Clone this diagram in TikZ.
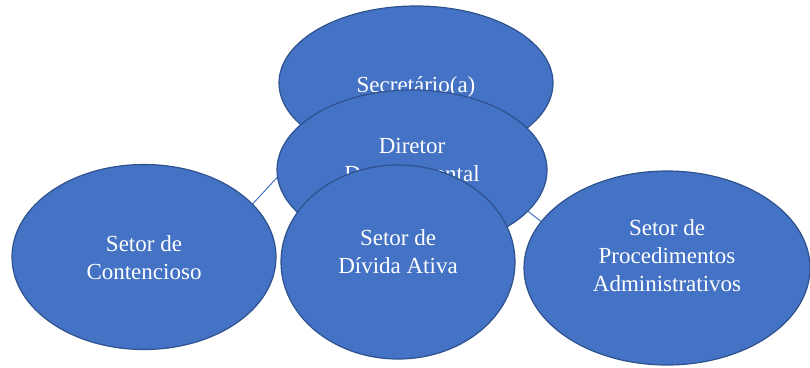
\documentclass[tikz,border=0pt]{standalone}
\usepackage{fontspec}
\setmainfont{Liberation Serif}
\usetikzlibrary{shapes.geometric}
\definecolor{fillblue}{HTML}{4472C4}
\definecolor{edgeblue}{HTML}{2F528F}
\tikzset{
  ell/.style={ellipse, draw=edgeblue, fill=fillblue, line width=1.2pt, inner sep=0pt},
  txt/.style={text=white, align=center, font=\fontsize{23}{28}\selectfont, inner sep=0pt},
  conn/.style={draw=fillblue, line width=1pt}
}
\begin{document}
\begin{tikzpicture}[x=1pt,y=-1pt]
\useasboundingbox (0,0) rectangle (810,367);
% connectors (behind)
\coordinate (c1a) at (248,209);
\coordinate (c1b) at (284,170);
\coordinate (c2a) at (525,209);
\coordinate (c2b) at (547,226);
\draw[conn] (c1a) -- (c1b);
\draw[conn] (c2a) -- (c2b);
% ellipses
\node[ell, minimum width=264pt, minimum height=185pt] (cont) at (144,257) {};
\node[txt] (contt) at (144,258) {Setor de\\Contencioso};
\node[ell, minimum width=286pt, minimum height=194pt] (proc) at (667,268) {};
\node[txt] (proct) at (667,256) {Setor de\\Procedimentos\\Administrativos};
\node[ell, minimum width=274pt, minimum height=154pt] (sec) at (416,83) {};
\node[txt] (sect) at (416,87) {Secretário(a)};
\node[ell, minimum width=270pt, minimum height=160pt] (dir) at (412,170) {};
\node[txt] (dirt) at (412,162) {Diretor\\Departamental};
\node[ell, minimum width=234pt, minimum height=194pt] (div) at (398,262) {};
\node[txt] (divt) at (398,252) {Setor de\\Dívida Ativa};
\end{tikzpicture}
\end{document}
